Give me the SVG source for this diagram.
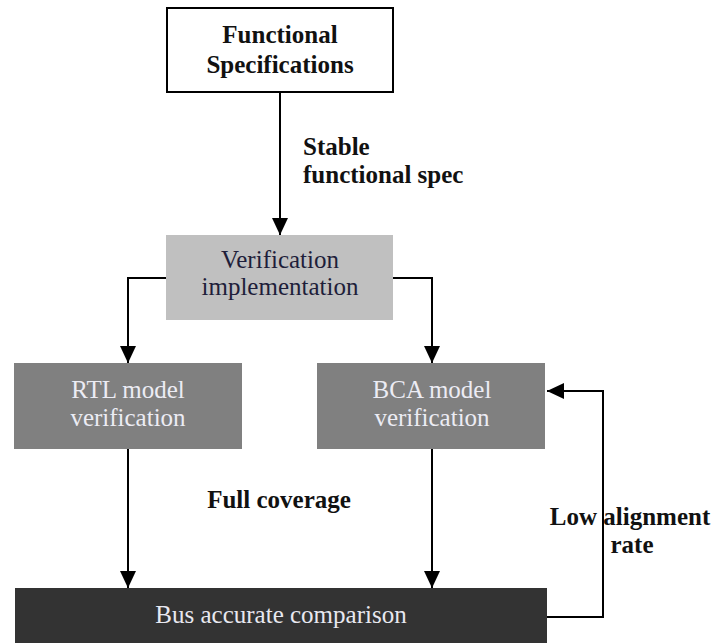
<svg xmlns="http://www.w3.org/2000/svg" width="713" height="643" viewBox="0 0 713 643" font-family="'Liberation Serif', 'Times New Roman', serif">
  <defs>
    <marker id="arrow" viewBox="0 0 17 16" refX="17" refY="8" markerWidth="17" markerHeight="16" markerUnits="userSpaceOnUse" orient="auto">
      <path d="M0,0 L17,8 L0,16 Z" fill="#000"/>
    </marker>
    <style>
      text { font-family: "Liberation Serif", "Times New Roman", serif; text-anchor: middle; font-size: 25px; }
      .label { font-weight: bold; fill: #111; }
      .conn { fill: none; stroke: #000; stroke-width: 2; }
    </style>
  </defs>
  <rect width="713" height="643" fill="#fff"/>

  <!-- connectors -->
  <g id="connectors">
    <path class="conn" d="M280,92 V235" marker-end="url(#arrow)"/>
    <path class="conn" d="M166,278 H128 V363" marker-end="url(#arrow)"/>
    <path class="conn" d="M393,278 H432 V363" marker-end="url(#arrow)"/>
    <path class="conn" d="M128,449 V588" marker-end="url(#arrow)"/>
    <path class="conn" d="M432,449 V588" marker-end="url(#arrow)"/>
    <path class="conn" d="M547,617 H603 V391 H547" marker-end="url(#arrow)"/>
  </g>

  <!-- connector labels -->
  <g id="labels">
    <text class="label" x="303" y="155" style="text-anchor:start">Stable</text>
    <text class="label" x="303" y="183" style="text-anchor:start">functional spec</text>
    <text class="label" x="279" y="508">Full coverage</text>
    <text class="label" x="630" y="525">Low alignment</text>
    <text class="label" x="632" y="553">rate</text>
  </g>

  <g id="functional-specifications">
    <rect x="167" y="8" width="226" height="84" fill="#fff" stroke="#000" stroke-width="2"/>
    <text class="label" x="280" y="43">Functional</text>
    <text class="label" x="280" y="73">Specifications</text>
  </g>

  <g id="verification-implementation">
    <rect x="166" y="235" width="227" height="85" fill="#c0c0c0"/>
    <text x="280" y="268" fill="#1e1e3a">Verification</text>
    <text x="280" y="295" fill="#1e1e3a">implementation</text>
  </g>

  <g id="rtl-model-verification">
    <rect x="14" y="363" width="228" height="86" fill="#808080"/>
    <text x="128" y="398" fill="#ececf4">RTL model</text>
    <text x="128" y="426" fill="#ececf4">verification</text>
  </g>

  <g id="bca-model-verification">
    <rect x="317" y="363" width="228" height="86" fill="#808080"/>
    <text x="432" y="398" fill="#ececf4">BCA model</text>
    <text x="432" y="426" fill="#ececf4">verification</text>
  </g>

  <g id="bus-accurate-comparison">
    <rect x="15" y="588" width="532" height="55" fill="#333333"/>
    <text x="281" y="623" fill="#e8e8f0">Bus accurate comparison</text>
  </g>
</svg>
